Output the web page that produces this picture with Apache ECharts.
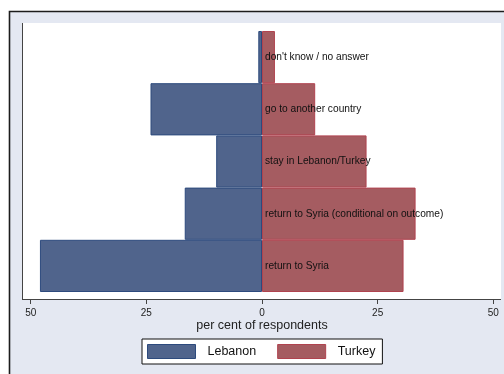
<!DOCTYPE html>
<html>
<head>
<meta charset="utf-8">
<script src="https://cdn.jsdelivr.net/npm/echarts@6/dist/echarts.min.js"></script>
<style>
  html, body { margin: 0; padding: 0; background: #ffffff; }
  #chart { width: 504px; height: 374px; }
</style>
</head>
<body>
<div id="chart"></div>
<script>
// Intentions of refugees, per cent of respondents, by host country
const categories = [
  "don't know / no answer",
  "go to another country",
  "stay in Lebanon/Turkey",
  "return to Syria (conditional on outcome)",
  "return to Syria"
];
const lebanon = [0.8, 24.1, 9.9, 16.7, 48.0];
const turkey = [2.8, 11.5, 22.6, 33.2, 30.6];

const FONT = "'Liberation Sans', Arial, Helvetica, sans-serif";

const chart = echarts.init(document.getElementById('chart'), null, { renderer: 'canvas' });

chart.setOption({
  animation: false,
  textStyle: { fontFamily: FONT },
  graphic: [
    { // outer graph region
      type: 'rect', z: -20, silent: true,
      shape: { x: 9.5, y: 11.5, width: 620, height: 520 },
      style: { fill: '#e4e8f2', stroke: '#1c1c1c', lineWidth: 1.6 }
    },
    { // plot region
      type: 'rect', z: -19, silent: true,
      shape: { x: 22, y: 23, width: 479, height: 276 },
      style: { fill: '#ffffff' }
    },
    { // left axis line
      type: 'line', z: 10, silent: true,
      shape: { x1: 22.5, y1: 23, x2: 22.5, y2: 299.5 },
      style: { stroke: '#444444', lineWidth: 1 }
    },
    { // bottom axis line spanning the plot region
      type: 'line', z: 10, silent: true,
      shape: { x1: 22, y1: 299.5, x2: 501, y2: 299.5 },
      style: { stroke: '#444444', lineWidth: 1 }
    }
  ],
  grid: { left: 30.7, right: 10.7, top: 31, bottom: 82, containLabel: false },
  xAxis: {
    type: 'value',
    min: -50,
    max: 50,
    interval: 25,
    offset: 7,
    axisLine: { show: false, onZero: false },
    axisTick: { show: true, length: 5, lineStyle: { color: '#444444', width: 1 } },
    axisLabel: {
      margin: 9,
      fontSize: 10,
      color: '#222222',
      formatter: v => String(Math.abs(v))
    },
    splitLine: { show: false },
    name: 'per cent of respondents',
    nameLocation: 'middle',
    nameMoveOverlap: false,
    nameGap: 20,
    nameTextStyle: { fontSize: 12.5, color: '#222222' }
  },
  yAxis: {
    type: 'category',
    data: categories,
    inverse: true,
    axisLine: { show: false },
    axisTick: { show: false },
    axisLabel: { show: false },
    splitLine: { show: false }
  },
  legend: {
    left: 142,
    top: 339,
    padding: [5, 7, 5, 5],
    backgroundColor: '#ffffff',
    borderColor: '#111111',
    borderWidth: 1,
    itemWidth: 48,
    itemHeight: 14,
    itemGap: 21,
    icon: 'rect',
    itemStyle: { borderWidth: 1 },
    textStyle: { fontSize: 12.5, color: '#111111', padding: [0, 0, 0, 7] },
    data: ['Lebanon', 'Turkey']
  },
  series: [
    {
      name: 'Lebanon',
      type: 'bar',
      stack: 'pyramid',
      barCategoryGap: '0%',
      data: lebanon.map(v => -v),
      itemStyle: { color: '#50648c', borderColor: '#2d4a7d', borderWidth: 1 }
    },
    {
      name: 'Turkey',
      type: 'bar',
      stack: 'pyramid',
      barCategoryGap: '0%',
      data: turkey,
      itemStyle: { color: '#a55c61', borderColor: '#b0434f', borderWidth: 1 },
      label: {
        show: true,
        position: 'insideLeft',
        distance: 3,
        fontSize: 10.2,
        color: '#111111',
        formatter: p => p.name
      }
    }
  ]
});
</script>
</body>
</html>
